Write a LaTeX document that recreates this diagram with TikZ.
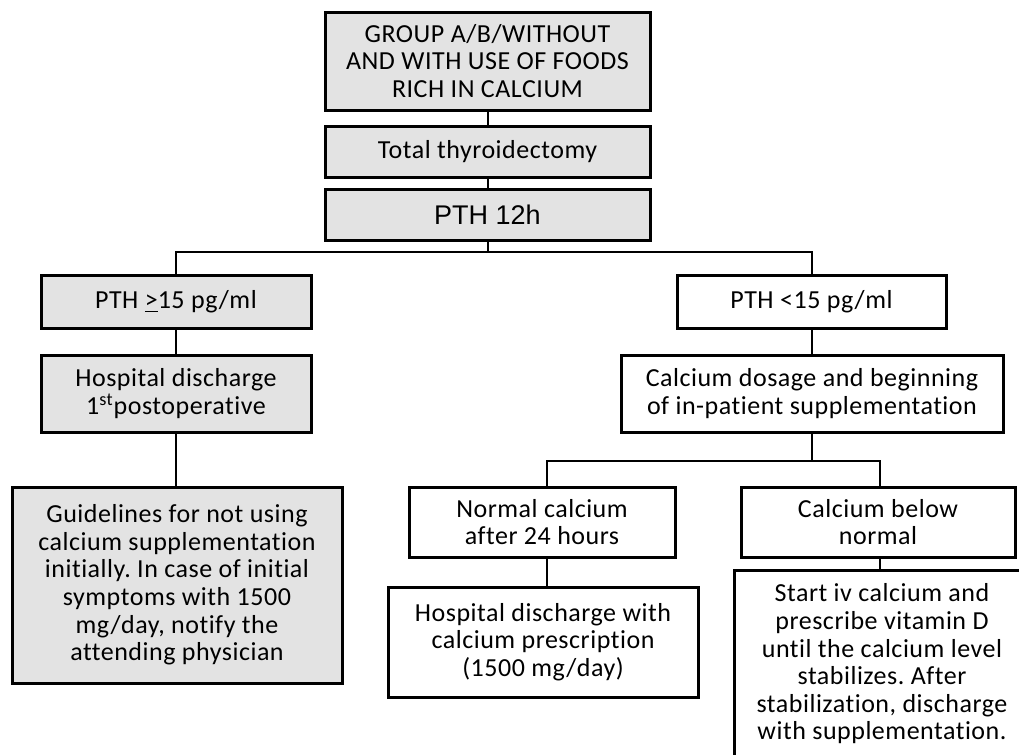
\documentclass[tikz,border=0pt]{standalone}
\usepackage{fontspec}
\setmainfont{Carlito}[LetterSpace=2, Ligatures=NoCommon]
\newfontfamily\headfont{Liberation Sans}
\usetikzlibrary{positioning}
\definecolor{boxgray}{RGB}{227,227,227}
\frenchspacing

\begin{document}
\begin{tikzpicture}[
    node distance=6pt,
    every node/.style={font=\fontsize{13}{13.8}\selectfont},
    % Box styles
    graybox/.style={
      rectangle, draw, line width=1.5pt, fill=boxgray,
      align=center, inner sep=2pt, outer sep=0pt
    },
    whitebox/.style={graybox, fill=white},
    % Line style
    link/.style={line width=1pt}
  ]
  \useasboundingbox (0,0) rectangle (509.5pt,-377.5pt);
  \clip (0,0) rectangle (509.5pt,-377.5pt);

  % ============ Common trunk ============
  \node[graybox, minimum width=162.5pt, minimum height=49pt] (group) at (243.75pt,-30.5pt)
    {GROUP A/B/WITHOUT\\AND WITH USE OF FOODS\\RICH IN CALCIUM};
  \node[graybox, minimum width=162.5pt, minimum height=25.5pt, below=8pt of group] (surgery)
    {Total thyroidectomy};
  \node[graybox, minimum width=162.5pt, minimum height=25.5pt, below=6pt of surgery,
    font=\headfont\fontsize{13.5}{15}\selectfont] (pth12)
    {PTH 12h};

  % ============ Left branch (PTH high) ============
  \node[graybox, minimum width=135pt, minimum height=26.5pt,
    below=17.5pt of pth12, xshift=-155.75pt] (pthhi)
    {PTH \underline{>}15 pg/ml};
  \node[graybox, minimum width=135pt, minimum height=38.5pt, below=13.5pt of pthhi] (earlyout)
    {Hospital discharge\\1\textsuperscript{st}postoperative};
  \node[graybox, minimum width=165pt, minimum height=98pt,
    below=27.5pt of earlyout, xshift=0.5pt] (guide)
    {Guidelines for not using\\calcium supplementation\\initially. In case of initial\\symptoms with 1500\\mg/day, notify the\\attending physician};

  % ============ Right branch (PTH low) ============
  \node[whitebox, minimum width=134.5pt, minimum height=26.5pt, right=183pt of pthhi] (pthlo)
    {PTH <15 pg/ml};
  \node[whitebox, minimum width=191pt, minimum height=38.5pt,
    below=13.5pt of pthlo, xshift=0.25pt] (dosage)
    {Calcium dosage and beginning\\of in-patient supplementation};
  \node[whitebox, minimum width=133pt, minimum height=35pt,
    below=27.5pt of dosage, xshift=-135pt] (normal)
    {Normal calcium\\after 24 hours};
  \node[whitebox, minimum width=137pt, minimum height=35pt, right=33pt of normal] (lowca)
    {Calcium below\\normal};
  \node[whitebox, minimum width=155pt, minimum height=55pt,
    below=15pt of normal, xshift=0.5pt] (rxout)
    {Hospital discharge with\\calcium prescription\\(1500 mg/day)};
  \node[whitebox, minimum width=148pt, minimum height=94pt,
    below=6.5pt of lowca, xshift=2pt] (ivca)
    {Start iv calcium and\\prescribe vitamin D\\until the calcium level\\stabilizes. After\\stabilization, discharge\\with supplementation.};

  % ============ Connectors ============
  \coordinate[below=6pt of pth12] (split);
  \coordinate[below=14.5pt of dosage] (split2);
  \draw[link] (group) -- (surgery);
  \draw[link] (surgery) -- (pth12);
  \draw[link] (pth12) -- (split);
  \draw[link] (pthhi.north) |- (split) -| (pthlo.north);
  \draw[link] (pthhi) -- (earlyout);
  \draw[link] (earlyout) -- (earlyout |- guide.north);
  \draw[link] (pthlo) -- (pthlo |- dosage.north);
  \draw[link] (dosage) -- (split2);
  \draw[link] ([xshift=2.5pt]normal.north) |- (split2) -| ([xshift=1pt]lowca.north);
  \draw[link] ([xshift=2.5pt]normal.south) -- ([xshift=2.5pt]normal.south |- rxout.north);
  \draw[link] ([xshift=1pt]lowca.south) -- ([xshift=1pt]lowca.south |- ivca.north);

\end{tikzpicture}
\end{document}
